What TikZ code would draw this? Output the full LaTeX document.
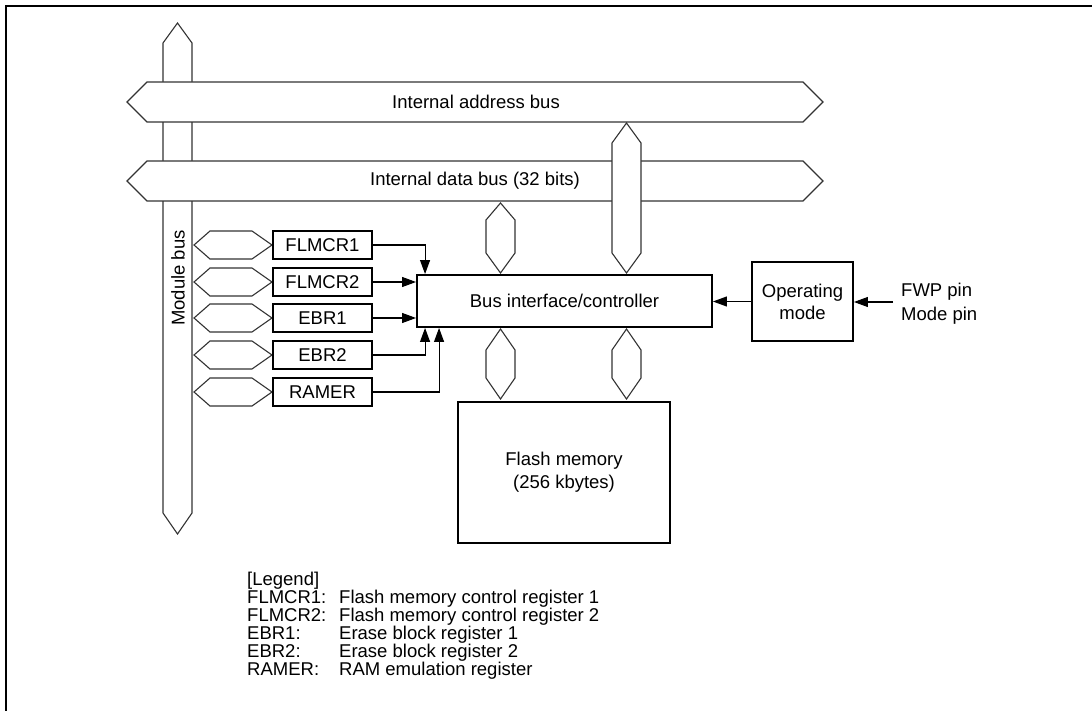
\documentclass[tikz,border=0pt]{standalone}
\usepackage{fontspec}
\setmainfont{Liberation Sans}
\usetikzlibrary{arrows.meta}
\begin{document}
\begin{tikzpicture}[x=1pt,y=-1pt,
  font=\fontsize{18.5}{23}\selectfont,
  bus/.style={draw=black!80, line width=1.1pt, fill=white, line join=miter},
  box/.style={draw=black, line width=1.9pt, fill=white, inner sep=0pt, align=center},
  reg/.style={box, minimum width=99pt, minimum height=28pt},
  arr/.style={-{Triangle[length=14pt,width=10pt]}, line width=1.1pt},
  lbl/.style={anchor=base west, inner sep=0pt}]
\useasboundingbox (0,0) rectangle (1092,711);
% frame
\draw[line width=2.2pt] (6,711) -- (6,6) -- (1092,6);
% module bus (vertical)
\draw[bus] (177.5,23) -- (192,43) -- (192,513) -- (177.5,534) -- (163,513) -- (163,43) -- cycle;
\node[rotate=90] (modbus) at (178,278) {Module bus};
% internal address bus
\draw[bus] (127,102) -- (147,82) -- (803,82) -- (823,102) -- (803,122) -- (147,122) -- cycle;
\node (addrlbl) at (476,102) {Internal address bus};
% internal data bus
\draw[bus] (127,181) -- (147,161) -- (803,161) -- (823,181) -- (803,201) -- (147,201) -- cycle;
\node (datalbl) at (475,181) {Internal data bus (32 bits)};
% drop from address bus
\draw[bus] (626.5,123) -- (641,143) -- (641,253) -- (626.5,273) -- (612,253) -- (612,143) -- cycle;
% drop from data bus
\draw[bus] (500.5,203) -- (515,220) -- (515,253) -- (500.5,273) -- (486,253) -- (486,220) -- cycle;
% buses between controller and flash
\draw[bus] (500.5,329) -- (515,350) -- (515,378) -- (500.5,399) -- (486,378) -- (486,350) -- cycle;
\draw[bus] (626.5,329) -- (641,350) -- (641,378) -- (626.5,399) -- (612,378) -- (612,350) -- cycle;
% register stubs
\foreach \cy in {245,282,318,355,392} {
  \draw[bus] (194,\cy) -- (210,\cy-14) -- (252,\cy-14) -- (272,\cy) -- (252,\cy+14) -- (210,\cy+14) -- cycle;
}
% registers
\node[reg] (flmcr1) at (322.5,245) {FLMCR1};
\node[reg] (flmcr2) at (322.5,282) {FLMCR2};
\node[reg] (ebr1) at (322.5,318) {EBR1};
\node[reg] (ebr2) at (322.5,355) {EBR2};
\node[reg] (ramer) at (322.5,392) {RAMER};
% main blocks
\node[box, minimum width=295pt, minimum height=52pt] (bif) at (564.5,301) {Bus interface/controller};
\node[box, minimum width=212pt, minimum height=141pt] (flash) at (564,472.5) {Flash memory\\(256 kbytes)};
\node[box, minimum width=101pt, minimum height=79pt, font=\fontsize{18.5}{22}\selectfont] (opmode) at (802.5,301.5) {Operating\\mode};
% arrows
\draw[arr] (flmcr1.east) -| ([xshift=9pt]bif.north west);
\draw[arr] (flmcr2.east) -- (flmcr2.east -| bif.west);
\draw[arr] (ebr1.east) -- (ebr1.east -| bif.west);
\draw[arr] (ebr2.east) -| ([xshift=9pt]bif.south west);
\draw[arr] (ramer.east) -| ([xshift=23pt]bif.south west);
\draw[arr] (opmode.west) -- (opmode.west -| bif.east);
\coordinate (pins) at (893,302);
\draw[arr] (pins) -- (pins -| opmode.east);
\node[lbl] (fwp) at (901,297) {FWP pin};
\node[lbl] (modepin) at (901,320) {Mode pin};
% legend
\node[lbl] (leg) at (247,585) {[Legend]};
\node[lbl] (k1) at (247,603) {FLMCR1:};
\node[lbl] (d1) at (339,603) {Flash memory control register 1};
\node[lbl] (k2) at (247,621) {FLMCR2:};
\node[lbl] (d2) at (339,621) {Flash memory control register 2};
\node[lbl] (k3) at (247,639) {EBR1:};
\node[lbl] (d3) at (339,639) {Erase block register 1};
\node[lbl] (k4) at (247,657) {EBR2:};
\node[lbl] (d4) at (339,657) {Erase block register 2};
\node[lbl] (k5) at (247,675) {RAMER:};
\node[lbl] (d5) at (339,675) {RAM emulation register};
\end{tikzpicture}
\end{document}
